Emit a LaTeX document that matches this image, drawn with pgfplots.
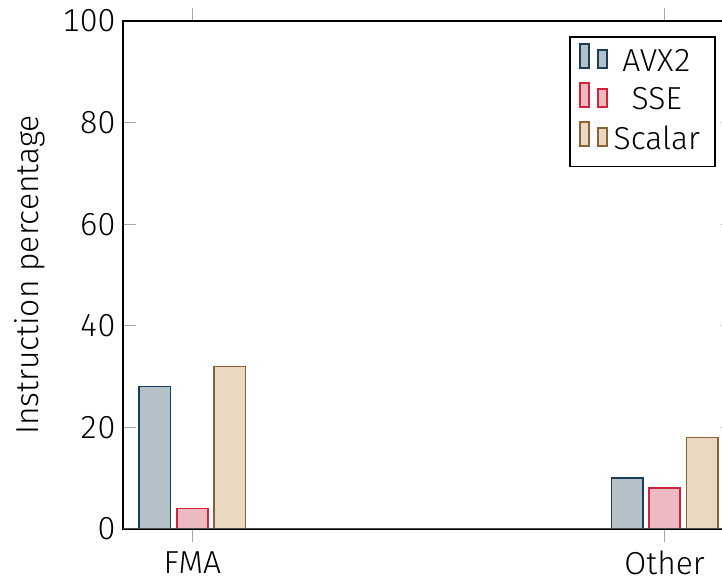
\documentclass[border=0pt]{standalone}
\usepackage{fontspec}
\setmainfont{Fira Sans}[UprightFont={* Light}, Numbers=Monospaced]
\usepackage{pgfplots}
\pgfplotsset{compat=1.18}

\definecolor{avxline}{RGB}{24,62,92}
\definecolor{avxfill}{RGB}{180,193,201}
\definecolor{sseline}{RGB}{208,36,58}
\definecolor{ssefill}{RGB}{236,186,192}
\definecolor{scaline}{RGB}{138,98,52}
\definecolor{scafill}{RGB}{234,216,195}

\begin{document}
\begin{tikzpicture}[font=\fontsize{10.6pt}{12.7pt}\selectfont]
\begin{axis}[
  name=ax,
  scale only axis,
  width=203.7pt, height=169.3pt,
  ybar=2.1pt, bar width=10.4pt,
  xmin=-0.147, xmax=1.147,
  ymin=0, ymax=100,
  xtick={0,1}, xticklabels={FMA, Other},
  ytick={0,20,40,60,80,100},
  xtick align=outside,
  /pgf/number format/assume math mode=true,
  yticklabel style={inner xsep=2.3pt},
  xticklabel style={yshift=0.3pt},
  tick style={black!35, line width=0.4pt},
  axis line style={black, line width=0.5pt},
  ylabel={Instruction percentage},
  legend cell align=center,
  legend style={draw=black, line width=0.5pt, font=\fontsize{10.6pt}{12.7pt}\selectfont},
  legend pos=north east,
]
\addplot[draw=avxline, fill=avxfill, line width=0.55pt] coordinates {(0,28) (1,10)};
\addplot[draw=sseline, fill=ssefill, line width=0.55pt] coordinates {(0,4) (1,8)};
\addplot[draw=scaline, fill=scafill, line width=0.55pt] coordinates {(0,32) (1,18)};
\legend{AVX2, SSE, Scalar}
\draw[black!70, line width=0.7pt] (rel axis cs:0,0) -- (rel axis cs:1,0);
\end{axis}
\pgfresetboundingbox
\useasboundingbox ([xshift=-41pt,yshift=-17.5pt]ax.south west) rectangle ([xshift=199.7pt,yshift=7pt]ax.north west);
\end{tikzpicture}
\end{document}
